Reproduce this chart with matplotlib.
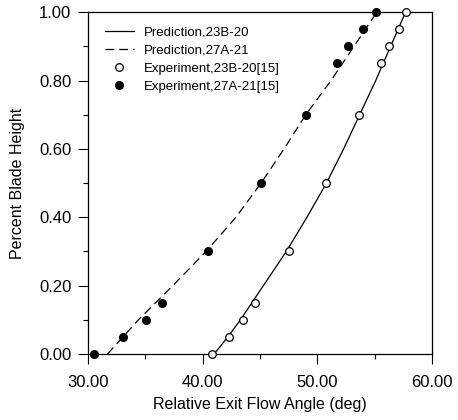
import numpy as np
import matplotlib.pyplot as plt
from matplotlib.ticker import MultipleLocator, FormatStrFormatter

plt.rcParams['font.family'] = ['Liberation Sans', 'DejaVu Sans']

# prediction curves (angle, height)
pred_23b_x = [41.0, 42.2, 43.3, 44.3, 45.3, 47.3, 49.1, 50.8, 52.3, 53.7, 55.1, 56.4, 57.7]
pred_23b_y = [0.00, 0.05, 0.10, 0.15, 0.20, 0.30, 0.40, 0.50, 0.60, 0.70, 0.80, 0.90, 1.00]
pred_27a_x = [31.7, 34.4, 37.4, 40.3, 42.9, 45.1, 47.1, 49.0, 51.2, 53.2, 55.2]
pred_27a_y = [0.00, 0.10, 0.20, 0.30, 0.40, 0.50, 0.60, 0.70, 0.80, 0.90, 1.00]

# experiments [15]
exp_23b_x = [40.8, 42.3, 43.5, 44.6, 47.5, 50.75, 53.6, 55.6, 56.3, 57.1, 57.7]
exp_23b_y = [0.00, 0.05, 0.10, 0.15, 0.30, 0.50, 0.70, 0.85, 0.90, 0.95, 1.00]
exp_27a_x = [30.55, 33.05, 35.1, 36.5, 40.5, 45.1, 49.0, 51.7, 52.7, 53.95, 55.1]
exp_27a_y = [0.00, 0.05, 0.10, 0.15, 0.30, 0.50, 0.70, 0.85, 0.90, 0.95, 1.00]

fig = plt.figure(figsize=(4.58, 4.2), dpi=100)
ax = fig.add_axes([0.192, 0.157, 0.751, 0.814])

ax.plot(pred_23b_x, pred_23b_y, color='black', lw=0.9, label='Prediction,23B-20')
ax.plot(pred_27a_x, pred_27a_y, color='black', lw=0.9, dashes=(7, 4), label='Prediction,27A-21')
ax.plot(exp_23b_x, exp_23b_y, 'o', ms=5.5, mfc='white', mec='black', mew=0.9,
        label='Experiment,23B-20[15]', clip_on=False, zorder=5)
ax.plot(exp_27a_x, exp_27a_y, 'o', ms=5.5, mfc='black', mec='black',
        label='Experiment,27A-21[15]', clip_on=False, zorder=5)

ax.set_xlim(30, 60)
ax.set_ylim(0, 1)
ax.xaxis.set_major_locator(MultipleLocator(10))
ax.xaxis.set_minor_locator(MultipleLocator(5))
ax.yaxis.set_major_locator(MultipleLocator(0.2))
ax.yaxis.set_minor_locator(MultipleLocator(0.1))
ax.xaxis.set_major_formatter(FormatStrFormatter('%.2f'))
ax.yaxis.set_major_formatter(FormatStrFormatter('%.2f'))
ax.tick_params(which='major', direction='out', length=7, width=0.8, labelsize=12)
ax.tick_params(axis='x', which='major', pad=8)
ax.tick_params(axis='y', which='major', pad=5)
ax.tick_params(which='minor', direction='out', length=3.5, width=0.8)
ax.tick_params(top=False, right=False)
for s in ax.spines.values():
    s.set_linewidth(0.9)

ax.set_xlabel('Relative Exit Flow Angle (deg)', fontsize=11.5, labelpad=5)
ax.set_ylabel('Percent Blade Height', fontsize=11.5, labelpad=10)

ax.legend(loc='upper left', frameon=False, fontsize=9.5, numpoints=1,
          handlelength=2.2, handletextpad=0.75, labelspacing=0.45,
          borderaxespad=0.4, bbox_to_anchor=(0.018, 0.99))

fig.savefig('out.png', dpi=100)
